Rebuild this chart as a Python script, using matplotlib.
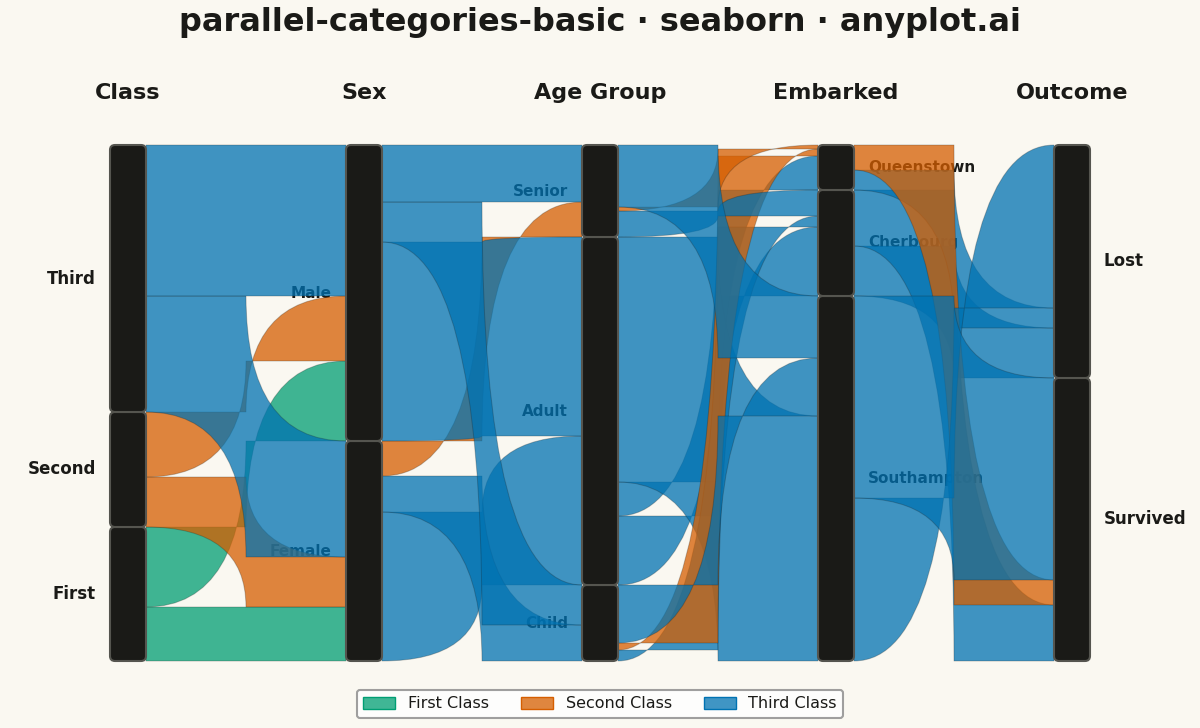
import matplotlib.pyplot as plt
from matplotlib.path import Path
from matplotlib.patches import PathPatch, FancyBboxPatch, Patch
from matplotlib.colors import to_rgba

BG = '#FAF8F1'
INK = '#1A1A17'
PALETTE = {'First': '#009E73', 'Second': '#D55E00', 'Third': '#0072B2'}

dims = ['Class', 'Sex', 'Age Group', 'Embarked', 'Outcome']

# categories on each axis, listed bottom to top
class_levels = ['First', 'Second', 'Third']
sex_levels = ['Female', 'Male']
age_levels = ['Child', 'Adult', 'Senior']
port_levels = ['Southampton', 'Cherbourg', 'Queenstown']
outcome_levels = ['Survived', 'Lost']

# links between neighbouring axes: (source, target, passengers, dominant class)
class_sex = [('First', 'Female', 54, 'First'), ('First', 'Male', 80, 'First'),
             ('Second', 'Female', 50, 'Second'), ('Second', 'Male', 65, 'Second'),
             ('Third', 'Female', 116, 'Third'), ('Third', 'Male', 151, 'Third')]
sex_age = [('Female', 'Adult', 149, 'Third'), ('Female', 'Child', 36, 'Third'),
           ('Female', 'Senior', 35, 'Second'), ('Male', 'Adult', 199, 'Third'),
           ('Male', 'Child', 40, 'Third'), ('Male', 'Senior', 57, 'Third')]
age_port = [('Adult', 'Cherbourg', 69, 'Third'), ('Adult', 'Queenstown', 34, 'Third'),
            ('Adult', 'Southampton', 245, 'Third'), ('Child', 'Cherbourg', 11, 'Third'),
            ('Child', 'Queenstown', 7, 'Second'), ('Child', 'Southampton', 58, 'Third'),
            ('Senior', 'Cherbourg', 26, 'Third'), ('Senior', 'Queenstown', 4, 'Second'),
            ('Senior', 'Southampton', 62, 'Third')]
port_outcome = [('Cherbourg', 'Lost', 50, 'Third'), ('Cherbourg', 'Survived', 56, 'Third'),
                ('Queenstown', 'Lost', 20, 'Third'), ('Queenstown', 'Survived', 25, 'Second'),
                ('Southampton', 'Lost', 163, 'Third'), ('Southampton', 'Survived', 202, 'Third')]

levels = [class_levels, sex_levels, age_levels, port_levels, outcome_levels]
links = [class_sex, sex_age, age_port, port_outcome]

# node sizes
node_size = []
for d in range(len(dims)):
    sizes = {c: 0 for c in levels[d]}
    if d < len(links):
        for s, t, n, k in links[d]:
            sizes[s] += n
    else:
        for s, t, n, k in links[-1]:
            sizes[t] += n
    node_size.append(sizes)
total = sum(node_size[0].values())

# node spans (bottom to top)
node_lo = []
for d in range(len(dims)):
    lo, acc = {}, 0
    for c in levels[d]:
        lo[c] = acc
        acc += node_size[d][c]
    node_lo.append(lo)

# figure in pixel-like layout
fig = plt.figure(figsize=(12, 7.28), dpi=100, facecolor=BG)
ax = fig.add_axes([0, 0, 1, 1])
ax.set_facecolor(BG)
ax.axis('off')
ux = 1 / 236            # x data units per pixel
uy = total / 516        # y data units per pixel
ax.set_xlim(-128 * ux, (1200 - 128) * ux)
ax.set_ylim(-(728 - 661) * uy, total + 145 * uy)
hw = 18 * ux

#Ribbons
for d, pair in enumerate(links):
    src_off = dict(node_lo[d])
    tgt_off = dict(node_lo[d + 1])
    src_pos, tgt_pos = {}, {}
    for s, t, n, k in sorted(pair, key=lambda r: (r[0], r[1])):
        src_pos[(s, t)] = (src_off[s], src_off[s] + n)
        src_off[s] += n
    for s, t, n, k in sorted(pair, key=lambda r: (r[1], r[0])):
        tgt_pos[(s, t)] = (tgt_off[t], tgt_off[t] + n)
        tgt_off[t] += n

    x0, x1 = d + hw, d + 1 - hw
    xm = (x0 + x1) / 2
    for s, t, n, k in sorted(pair, key=lambda r: (r[0], r[1])):
        s_lo, s_hi = src_pos[(s, t)]
        t_lo, t_hi = tgt_pos[(s, t)]
        verts = [(x0, s_hi), (xm, s_hi), (xm, t_hi), (x1, t_hi),
                 (x1, t_lo), (xm, t_lo), (xm, s_lo), (x0, s_lo), (x0, s_hi)]
        codes = [Path.MOVETO, Path.LINETO, Path.CURVE3, Path.CURVE3,
                 Path.LINETO, Path.LINETO, Path.CURVE3, Path.CURVE3, Path.CLOSEPOLY]
        ax.add_patch(PathPatch(Path(verts, codes), facecolor=to_rgba(PALETTE[k], 0.75),
                               edgecolor=to_rgba(INK, 0.25), linewidth=0.7, zorder=2))

#Axis bars, headers and labels
for d, dim in enumerate(dims):
    for c in levels[d]:
        lo = node_lo[d][c]
        h = node_size[d][c]
        ax.add_patch(FancyBboxPatch((d - hw, lo), 2 * hw, h,
                                    boxstyle='round,pad=0,rounding_size=%f' % (5 * ux),
                                    mutation_aspect=uy / ux, facecolor=INK,
                                    edgecolor='#55554F', linewidth=1.5, zorder=3))
        fs = 12 if d in (0, len(dims) - 1) else 11
        if d <= 2:
            ax.text(d - hw - 14 * ux, lo + h / 2, c, ha='right', va='center',
                    fontsize=fs, fontweight='bold', color=INK, zorder=1)
        else:
            ax.text(d + hw + 14 * ux, lo + h / 2, c, ha='left', va='center',
                    fontsize=fs, fontweight='bold', color=INK, zorder=1)
    ax.text(d, total + (145 - 93) * uy, dim, ha='center', va='center',
            fontsize=16, fontweight='bold', color=INK)

fig.text(0.5, 1 - 22 / 728, 'parallel-categories-basic · seaborn · anyplot.ai',
         ha='center', va='center', fontsize=23, fontweight='bold', color=INK)

handles = [Patch(facecolor=to_rgba(PALETTE[k], 0.75), edgecolor=PALETTE[k], label=f'{k} Class')
           for k in class_levels]
leg = fig.legend(handles=handles, loc='center', bbox_to_anchor=(0.5, 1 - 704 / 728), ncol=3,
                 fontsize=11.5, frameon=True, facecolor='white', edgecolor='#888888')
leg.get_frame().set_linewidth(1.5)
for txt in leg.get_texts():
    txt.set_color(INK)

plt.savefig('out.png', dpi=100, facecolor=BG)
